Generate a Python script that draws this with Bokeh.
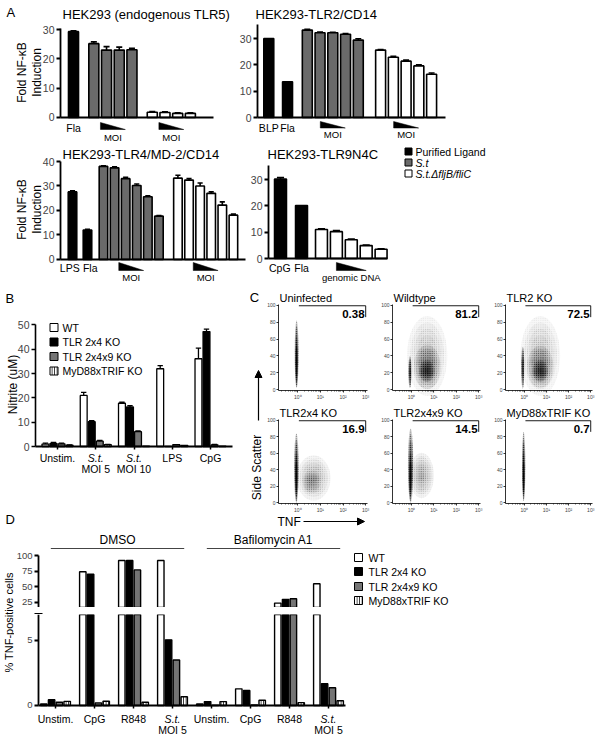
import math
from bokeh.plotting import figure
from bokeh.models import Range1d, LinearAxis, FixedTicker, Arrow, NormalHead
from bokeh.layouts import row, column
from bokeh.core.properties import value
from bokeh.embed import file_html
from bokeh.resources import INLINE

FONT = "Liberation Sans"

# ---------------- Panel A data ----------------
A1_TITLE = "HEK293 (endogenous TLR5)"
A1_LIG_LABELS = ["Fla"]
A1_LIG = [29.3]
A1_LIG_ERR = [0.3]
A1_ST = [25.2, 23.0, 23.0, 23.1]
A1_ST_ERR = [0.6, 1.2, 1.0, 0.5]
A1_MUT = [1.8, 1.7, 1.4, 1.4]
A1_MUT_ERR = [0.2, 0.2, 0.2, 0.2]

A2_TITLE = "HEK293-TLR2/CD14"
A2_LIG_LABELS = ["BLP", "Fla"]
A2_LIG = [30.0, 13.6]
A2_LIG_ERR = [0.0, 0.0]
A2_ST = [33.2, 32.2, 32.2, 31.6, 29.4]
A2_ST_ERR = [0.3, 0.3, 0.2, 0.3, 0.5]
A2_MUT = [25.6, 22.9, 21.4, 19.6, 16.4]
A2_MUT_ERR = [0.2, 0.3, 0.4, 0.4, 0.5]

A3_TITLE = "HEK293-TLR4/MD-2/CD14"
A3_LIG_LABELS = ["LPS", "Fla"]
A3_LIG = [27.6, 12.0]
A3_LIG_ERR = [0.4, 0.3]
A3_ST = [38.0, 37.4, 33.0, 30.2, 25.6, 17.7]
A3_ST_ERR = [0.2, 0.4, 0.5, 0.6, 0.4, 0.2]
A3_MUT = [33.2, 32.4, 30.0, 27.0, 22.2, 18.1]
A3_MUT_ERR = [1.2, 0.6, 1.2, 0.6, 1.3, 0.4]

A4_TITLE = "HEK293-TLR9N4C"
A4_LIG_LABELS = ["CpG", "Fla"]
A4_LIG = [30.2, 20.1]
A4_LIG_ERR = [0.5, 0.0]
A4_MUT = [11.0, 10.2, 7.1, 4.9, 3.5]
A4_MUT_ERR = [0.3, 0.4, 0.3, 0.2, 0.2]

A_YTICKS_30 = [0, 10, 20, 30]
A_YTICKS_40 = [0, 10, 20, 30, 40]
A_YLABEL = ["Fold NF-\u03baB", "Induction"]
A_LEGEND = ["Purified Ligand", "S.t", "S.t.\u0394fljB/fliC"]

# ---------------- Panel B data ----------------
B_LABEL1 = ["Unstim.", "S.t.", "S.t.", "LPS", "CpG"]
B_LABEL2 = ["", "MOI 5", "MOI 10", "", ""]
B_WT = [1.0, 21.0, 17.8, 32.0, 36.1]
B_WT_ERR = [0.4, 1.3, 0.4, 1.3, 4.4]
B_2X4 = [1.3, 10.2, 16.3, 0.0, 47.3]
B_2X4_ERR = [0.4, 0.4, 0.5, 0.0, 1.0]
B_2X4X9 = [1.1, 2.2, 6.1, 0.8, 0.7]
B_2X4X9_ERR = [0.3, 0.3, 0.3, 0.0, 0.2]
B_MYD = [0.6, 0.8, 0.1, 0.5, 0.1]
B_MYD_ERR = [0.1, 0.1, 0.0, 0.0, 0.0]
B_YTICKS = [0, 10, 20, 30, 40, 50]
GENOTYPES = ["WT", "TLR 2x4 KO", "TLR 2x4x9 KO", "MyD88xTRIF KO"]

# ---------------- Panel C data (density clouds: log10 TNF centre, SSC centre, width, height, alpha) ----
FLOW_TITLES = ["Uninfected", "Wildtype", "TLR2 KO", "TLR2x4 KO", "TLR2x4x9 KO", "MyD88xTRIF KO"]
FLOW_PCT = ["0.38", "81.2", "72.5", "16.9", "14.5", "0.7"]
FLOW_CLOUDS = [
    [(-0.05, 42, 0.17, 80, 0.45), (-0.05, 30, 0.12, 52, 0.55)],
    [(-0.07, 21, 0.14, 38, 0.5), (0.70, 40, 1.8, 95, 0.07), (0.70, 27, 1.2, 52, 0.17), (0.68, 22, 0.7, 26, 0.3)],
    [(-0.07, 26, 0.14, 50, 0.5), (0.72, 40, 1.8, 95, 0.07), (0.72, 27, 1.2, 50, 0.16), (0.72, 22, 0.7, 26, 0.28)],
    [(-0.06, 42, 0.20, 84, 0.42), (-0.06, 30, 0.13, 55, 0.55), (0.70, 30, 1.5, 55, 0.09), (0.60, 25, 0.8, 28, 0.09)],
    [(-0.04, 45, 0.24, 90, 0.38), (-0.05, 30, 0.15, 55, 0.55), (0.45, 33, 1.1, 55, 0.1)],
    [(-0.03, 44, 0.15, 84, 0.45), (-0.03, 30, 0.11, 52, 0.55)],
]
FLOW_XTICKS = [0, 1, 2, 3]
FLOW_XLABELS = ["10\u2070", "10\u00b9", "10\u00b2", "10\u00b3"]
FLOW_YTICKS = [0, 20, 40, 60, 80, 100]

# ---------------- Panel D data ----------------
D_LABEL1 = ["Unstim.", "CpG", "R848", "S.t.", "Unstim.", "CpG", "R848", "S.t."]
D_LABEL2 = ["", "", "", "MOI 5", "", "", "", "MOI 5"]
D_HEADERS = ["DMSO", "Bafilomycin A1"]
D_HEADER_GROUPS = [(0, 3), (4, 7)]
D_WT = [0.12, 74, 92, 92, 0.12, 1.28, 24, 55]
D_2X4 = [0.45, 70, 92, 5.05, 0.30, 1.15, 30, 1.67]
D_2X4X9 = [0.25, 0.20, 77, 3.5, 0.03, 0.04, 31, 1.36]
D_MYD = [0.32, 0.33, 0.25, 0.67, 0.30, 0.40, 0.22, 0.36]
D_UP_TICKS = [25, 50, 75, 100]
D_LOW_TICKS = [0, 5]
D_BREAK = (7, 17)

GRAY_A = "#6a6a6a"
GRAY_B = "#757575"


# ---------------- helpers ----------------
class Pan:
    """A figure whose plotting frame fills its whole canvas; (vframe, xr, yr) give the
    pixel box in which the data ranges xr / yr are laid out (axes sit on its edges)."""

    def __init__(self, canvas, vframe=None, xr=None, yr=None):
        cx0, cy0, cx1, cy1 = canvas
        if vframe is None:
            vframe = canvas
            xr = (0, cx1 - cx0)
            yr = (cy1 - cy0, 0)
        self.fx0, self.fy0, self.fx1, self.fy1 = vframe
        self.vxr, self.vyr = xr, yr
        rx = (self.X(cx0), self.X(cx1))
        ry = (self.Y(cy1), self.Y(cy0))
        p = figure(width=cx1 - cx0, height=cy1 - cy0,
                   x_range=Range1d(*rx), y_range=Range1d(*ry),
                   min_border=0, min_border_left=0, min_border_right=0,
                   min_border_top=0, min_border_bottom=0,
                   x_axis_location=None, y_axis_location=None,
                   output_backend="svg", toolbar_location=None)
        p.outline_line_color = None
        p.grid.visible = False
        p.background_fill_color = "white"
        p.border_fill_color = "white"
        self.p = p

    def X(self, px):
        return self.vxr[0] + (px - self.fx0) / (self.fx1 - self.fx0) * (self.vxr[1] - self.vxr[0])

    def Y(self, py):
        return self.vyr[0] + (self.fy1 - py) / (self.fy1 - self.fy0) * (self.vyr[1] - self.vyr[0])

    def label(self, px, py, text, size=11, align="left", angle=0.0, style="normal"):
        txt(self.p, [self.X(px)], [self.Y(py)], [text], size, align=align, angle=angle, style=style)


def txt(p, xs, ys, texts, size, align="center", baseline="middle", style="normal", angle=0.0, color="black"):
    p.text(x=xs, y=ys, text=texts, text_font=value(FONT), text_font_size=f"{size}px",
           text_align=align, text_baseline=baseline, text_font_style=style, angle=angle,
           text_color=color)


def bars(p, xs, vals, errs, color, w, lw, cap, hatch=None, bottom=0):
    kw = dict(fill_color=color, line_color="black", line_width=lw)
    if hatch:
        kw.update(hatch_pattern=hatch, hatch_color="black", hatch_scale=2.5, hatch_weight=0.9)
    p.vbar(x=xs, top=vals, bottom=bottom, width=w, **kw)
    ex = [x for x, e in zip(xs, errs) if e > 0]
    e0 = [v for v, e in zip(vals, errs) if e > 0]
    e1 = [v + e for v, e in zip(vals, errs) if e > 0]
    if ex:
        p.segment(x0=ex, y0=e0, x1=ex, y1=e1, line_color="black", line_width=lw)
        p.segment(x0=[x - cap for x in ex], y0=e1, x1=[x + cap for x in ex], y1=e1,
                  line_color="black", line_width=lw)


def left_axis(pan, ticks, bounds, size=10.5, lw=1.8, tick_out=4, standoff=2):
    ax = LinearAxis(fixed_location=pan.vxr[0], ticker=FixedTicker(ticks=ticks), bounds=bounds)
    ax.axis_line_width = lw
    ax.major_tick_line_width = lw
    ax.major_tick_out = tick_out
    ax.major_tick_in = 0
    ax.minor_tick_out = 0
    ax.minor_tick_in = 0
    ax.major_label_text_font = FONT
    ax.major_label_text_font_size = f"{size}px"
    ax.major_label_standoff = standoff
    pan.p.add_layout(ax, "left")
    return ax


def zero_axis(pan, ticks, lw=1.8, tick_out=0, bounds="auto"):
    ax = LinearAxis(fixed_location=0, ticker=FixedTicker(ticks=ticks), bounds=bounds)
    ax.axis_line_width = lw
    ax.major_tick_out = tick_out
    ax.major_tick_in = 0
    ax.major_tick_line_width = 1.5
    ax.minor_tick_out = 0
    ax.minor_tick_in = 0
    ax.major_label_overrides = {t: "" for t in ticks}
    ax.major_label_standoff = 0
    pan.p.add_layout(ax, "below")
    return ax


def wedge(p, xc, half, ytop, ybot):
    p.patch(x=[xc - half, xc + half, xc - half], y=[ytop, ybot, ybot],
            fill_color="black", line_color="black", line_width=0.5)


def slots(start, n):
    return [start + i for i in range(n)]


def mean(v):
    return sum(v) / len(v)


# ---------------- Row 1 / Row 2: panel A ----------------
A1 = Pan((0, 0, 235, 145), (60, 28, 213, 145), (-1.024, 11.02), (-9.56, 30.37))
A2 = Pan((235, 0, 601, 145), (257, 24, 445, 145), (-0.886, 13.86), (-10.63, 35.32))
A3 = Pan((0, 145, 247, 288), (60, 161, 245, 288), (-1.081, 15.59), (-11.84, 40.0))
A4 = Pan((247, 145, 393, 288), (268, 165, 387, 288), (-0.805, 7.18), (-11.39, 35.32))
LA = Pan((393, 145, 601, 288))


def panel_a(pan, lig_x, lig_v, lig_e, lig_labels, lab_nudge, groups, bw, yticks, ytop,
            lab_py, wedge_py, moi_py, moi_text, half):
    p = pan.p
    zero_axis(pan, [], bounds=(pan.vxr[0], pan.vxr[1]))
    left_axis(pan, yticks, (0, ytop))
    bars(p, lig_x, lig_v, lig_e, "black", bw, 1.6, bw * 0.3)
    for xs, vals, errs, col in groups:
        bars(p, xs, vals, errs, col, bw, 1.6, bw * 0.3)
        c = mean(xs)
        wedge(p, c, half, pan.Y(wedge_py[0]), pan.Y(wedge_py[1]))
        txt(p, [c], [pan.Y(moi_py)], [moi_text], 9.5)
    txt(p, [x + n for x, n in zip(lig_x, lab_nudge)], [pan.Y(lab_py)] * len(lig_x), lig_labels, 10.5)


a1_lig = [0.0]
a1_st = slots(1.6, len(A1_ST))
a1_mut = slots(6.2, len(A1_MUT))
panel_a(A1, a1_lig, A1_LIG, A1_LIG_ERR, A1_LIG_LABELS, [0.0],
        [(a1_st, A1_ST, A1_ST_ERR, GRAY_A), (a1_mut, A1_MUT, A1_MUT_ERR, "white")],
        0.79, A_YTICKS_30, 30.37, 127, (122, 129), 137, "MOI", 0.98)

a2_lig = [0.0, 1.47]
a2_st = slots(3.02, len(A2_ST))
a2_mut = slots(8.77, len(A2_MUT))
panel_a(A2, a2_lig, A2_LIG, A2_LIG_ERR, A2_LIG_LABELS, [0.0, 0.0],
        [(a2_st, A2_ST, A2_ST_ERR, GRAY_A), (a2_mut, A2_MUT, A2_MUT_ERR, "white")],
        0.78, A_YTICKS_30, 35.32, 127, (121, 127.5), 134, "MOI", 0.98)

a3_lig = [0.0, 1.35]
a3_st = slots(2.79, len(A3_ST))
a3_mut = slots(9.5, len(A3_MUT))
panel_a(A3, a3_lig, A3_LIG, A3_LIG_ERR, A3_LIG_LABELS, [-0.25, 0.25],
        [(a3_st, A3_ST, A3_ST_ERR, GRAY_A), (a3_mut, A3_MUT, A3_MUT_ERR, "white")],
        0.77, A_YTICKS_40, 40.0, 267, (262, 270), 277, "MOI", 1.12)

a4_lig = [0.0, 1.41]
a4_mut = slots(2.75, len(A4_MUT))
panel_a(A4, a4_lig, A4_LIG, A4_LIG_ERR, A4_LIG_LABELS, [-0.05, 0.0],
        [(a4_mut, A4_MUT, A4_MUT_ERR, "white")],
        0.8, A_YTICKS_30, 35.32, 267, (262, 270), 277, "genomic DNA", 1.0)

A1.label(6, 12, "A", 13)
A1.label(62, 14, A1_TITLE, 13)
A2.label(255, 14, A2_TITLE, 13)
A3.label(62, 154, A3_TITLE, 13)
A4.label(267, 154, A4_TITLE, 13)
for pan, cy in ((A1, 72), (A3, 209)):
    pan.label(21, cy, A_YLABEL[0], 12, align="center", angle=math.pi / 2)
    pan.label(36, cy, A_YLABEL[1], 12, align="center", angle=math.pi / 2)

# legend A
LA.p.scatter(x=[LA.X(408)] * 3, y=[LA.Y(151), LA.Y(162), LA.Y(173)], marker="square", size=7,
             fill_color=["black", GRAY_A, "white"], line_color="black", line_width=1)
txt(LA.p, [LA.X(415)], [LA.Y(151)], A_LEGEND[:1], 10.5, align="left")
txt(LA.p, [LA.X(415)] * 2, [LA.Y(162), LA.Y(173)], A_LEGEND[1:], 10.5, align="left", style="italic")

# ---------------- Row 3: panel B ----------------
B = Pan((0, 288, 240, 528), (35, 318, 232, 528), (-0.575, 4.575), (-33.74, 52.67))
zero_axis(B, list(range(len(B_LABEL1))), lw=1.8, tick_out=3, bounds=(B.vxr[0], B.vxr[1]))
left_axis(B, B_YTICKS, (0, 50), size=10.5, lw=1.6)
offs4 = [-0.315, -0.105, 0.105, 0.315]
b_series = [(B_WT, B_WT_ERR, "white", None), (B_2X4, B_2X4_ERR, "black", None),
            (B_2X4X9, B_2X4X9_ERR, GRAY_B, None), (B_MYD, B_MYD_ERR, "white", "|")]
for k, (v, e, col, h) in enumerate(b_series):
    xs = [i + offs4[k] for i in range(len(v))]
    bars(B.p, xs, v, e, col, 0.18, 1.3, 0.07, hatch=h)
for i, (l1, l2) in enumerate(zip(B_LABEL1, B_LABEL2)):
    txt(B.p, [i], [B.Y(457)], [l1], 10.5, style="italic" if l1 == "S.t." else "normal")
    if l2:
        txt(B.p, [i], [B.Y(468)], [l2], 10.5)
leg_y = [327, 341.5, 356, 370.5]
leg_cols = ["white", "black", GRAY_B, "white"]
for k in range(4):
    kw = dict(hatch_pattern="|", hatch_color="black", hatch_scale=2.5, hatch_weight=0.9) if k == 3 else {}
    B.p.scatter(x=[B.X(53.5)], y=[B.Y(leg_y[k])], marker="square", size=8, fill_color=leg_cols[k],
                line_color="black", line_width=1, **kw)
txt(B.p, [B.X(62)] * 4, [B.Y(v) for v in leg_y], GENOTYPES, 10.5, align="left")
B.label(5, 298, "B", 13)
B.label(5, 519, "D", 13)
B.label(12, 384, "Nitrite (uM)", 12, align="center", angle=math.pi / 2)

# ---------------- Row 3: panel C ----------------
CS = Pan((240, 288, 266, 528))
txt(CS.p, [CS.X(254)], [CS.Y(297)], ["C"], 13)
txt(CS.p, [CS.X(256)], [CS.Y(467)], ["Side Scatter"], 12, angle=math.pi / 2)
CS.p.add_layout(Arrow(end=NormalHead(size=7, fill_color="black", line_color="black"),
                      x_start=CS.X(258), y_start=CS.Y(420), x_end=CS.X(258), y_end=CS.Y(370),
                      line_width=1.2))

flow_frames = [
    ((266, 288, 380, 404), (278, 304, 367, 390), 297),
    ((380, 288, 493, 404), (392, 304, 480, 390), 297),
    ((493, 288, 601, 404), (505, 304, 592, 390), 297),
    ((266, 404, 380, 514), (278, 419, 367, 503), 412),
    ((380, 404, 493, 514), (392, 419, 480, 503), 412),
    ((493, 404, 601, 514), (505, 419, 592, 503), 412),
]
FX = (-0.85, 3.08)
FY = (-1, 101)
minor_log = [k + math.log10(m) for k in range(-1, 3) for m in range(2, 10) if FX[0] < k + math.log10(m) < FX[1]]
C = []
LAYERS = [1.0, 0.84, 0.68, 0.52, 0.36, 0.2]
for idx, (canvas, frame, ty) in enumerate(flow_frames):
    pan = Pan(canvas, frame, FX, FY)
    p = pan.p
    cx, cy, cw, ch, ca, fa = [], [], [], [], [], []
    for (x0, y0, w, h, a) in FLOW_CLOUDS[idx]:
        for s in LAYERS:
            cx.append(x0); cy.append(y0); cw.append(w * s); ch.append(h * s)
            ca.append(min(1.0, a * 1.15)); fa.append(a * 0.4)
    p.ellipse(x=cx, y=cy, width=cw, height=ch, fill_color="black", fill_alpha=fa, line_color=None,
              hatch_pattern="dot", hatch_color="black", hatch_alpha=ca, hatch_scale=2.2, hatch_weight=1.0)
    ya = LinearAxis(fixed_location=FX[0], ticker=FixedTicker(ticks=FLOW_YTICKS), bounds=FY)
    xa = LinearAxis(fixed_location=FY[0], ticker=FixedTicker(ticks=FLOW_XTICKS, minor_ticks=minor_log),
                    bounds=FX,
                    major_label_overrides={t: l for t, l in zip(FLOW_XTICKS, FLOW_XLABELS)})
    for ax in (ya, xa):
        ax.axis_line_width = 0.8
        ax.major_tick_out = 2
        ax.major_tick_in = 0
        ax.minor_tick_in = 0
        ax.minor_tick_out = 0
        ax.major_tick_line_width = 0.8
        ax.major_label_text_font = FONT
        ax.major_label_text_font_size = "5px"
        ax.major_label_standoff = 1
    xa.minor_tick_out = 1
    xa.minor_tick_line_width = 0.6
    p.add_layout(ya, "left")
    p.add_layout(xa, "below")
    p.segment(x0=[0.05, 3.0], y0=[99.5, 99.5], x1=[3.0, 3.0], y1=[99.5, 86], line_color="black", line_width=0.9)
    txt(p, [2.95], [90], [FLOW_PCT[idx]], 11.5, align="right", style="bold")
    pan.label(frame[0] + 1, ty, FLOW_TITLES[idx], 11)
    C.append(pan)

TNF = Pan((266, 514, 601, 528))
txt(TNF.p, [TNF.X(277)], [TNF.Y(521)], ["TNF"], 12, align="left")
TNF.p.add_layout(Arrow(end=NormalHead(size=7, fill_color="black", line_color="black"),
                       x_start=TNF.X(303), y_start=TNF.Y(521), x_end=TNF.X(364), y_end=TNF.Y(521),
                       line_width=1.2))

# ---------------- Row 4: panel D ----------------
D_XR = (-0.436, 7.436)
DLAB = Pan((0, 528, 14, 736))
txt(DLAB.p, [DLAB.X(8)], [DLAB.Y(622)], ["% TNF-positive cells"], 11, angle=math.pi / 2)

DH = Pan((14, 528, 350, 550), (38, 528, 345, 550), D_XR, (22, 0))
for name, (g0, g1) in zip(D_HEADERS, D_HEADER_GROUPS):
    DH.p.segment(x0=[g0 - 0.12], y0=[DH.Y(548)], x1=[g1 + 0.3], y1=[DH.Y(548)], line_color="#444444", line_width=1.1)
    txt(DH.p, [(g0 - 0.12 + g1 + 0.3) / 2], [DH.Y(539)], [name], 12)

DU = Pan((14, 550, 350, 607), (38, 555, 345, 607), D_XR, (D_BREAK[1], 100))
DG = Pan((14, 607, 350, 614))
DL = Pan((14, 614, 350, 736), (38, 614, 345, 736), D_XR, (-2.385, D_BREAK[0]))
left_axis(DU, D_UP_TICKS, (D_BREAK[1], 100), size=9.5, lw=1.8)
left_axis(DL, D_LOW_TICKS, (0, D_BREAK[0]), size=9.5, lw=1.8)
zero_axis(DL, list(range(len(D_LABEL1))), lw=1.8, tick_out=3, bounds=(DL.vxr[0], DL.vxr[1]))
# axis-break marks
DG.p.segment(x0=[DG.X(34), DG.X(34)], y0=[DG.Y(608.5), DG.Y(612.5)], x1=[DG.X(42), DG.X(42)],
             y1=[DG.Y(608.5), DG.Y(612.5)], line_color="black", line_width=2.2)
d_series = [(D_WT, "white", None), (D_2X4, "black", None), (D_2X4X9, GRAY_B, None), (D_MYD, "white", "|")]
offsD = [-0.3, -0.1, 0.1, 0.3]
for k, (v, col, h) in enumerate(d_series):
    xs = [i + offsD[k] for i in range(len(v))]
    up = [(x, t) for x, t in zip(xs, v) if t > D_BREAK[1]]
    if up:
        bars(DU.p, [u[0] for u in up], [u[1] for u in up], [0] * len(up), col, 0.165, 1.4, 0.0, hatch=h)
    bars(DL.p, xs, v, [0] * len(v), col, 0.165, 1.4, 0.0, hatch=h)
for i, (l1, l2) in enumerate(zip(D_LABEL1, D_LABEL2)):
    txt(DL.p, [i], [DL.Y(718)], [l1], 10.5, style="italic" if l1 == "S.t." else "normal")
    if l2:
        txt(DL.p, [i], [DL.Y(729.5)], [l2], 10.5)

LD = Pan((350, 528, 601, 736))
ld_y = [557, 571, 586, 600]
for k in range(4):
    kw = dict(hatch_pattern="|", hatch_color="black", hatch_scale=2.5, hatch_weight=0.9) if k == 3 else {}
    LD.p.scatter(x=[LD.X(358)], y=[LD.Y(ld_y[k])], marker="square", size=8, fill_color=leg_cols[k],
                 line_color="black", line_width=1, **kw)
txt(LD.p, [LD.X(368)] * 4, [LD.Y(v) for v in ld_y], GENOTYPES, 10.5, align="left")

# ---------------- layout ----------------
row1 = row(A1.p, A2.p)
row2 = row(A3.p, A4.p, LA.p)
cgrid = column(row(C[0].p, C[1].p, C[2].p), row(C[3].p, C[4].p, C[5].p), TNF.p)
row3 = row(B.p, CS.p, cgrid)
row4 = row(DLAB.p, column(DH.p, DU.p, DG.p, DL.p), LD.p)
layout = column(row1, row2, row3, row4)

open("out.html", "w").write(file_html(layout, INLINE, "plot"))
